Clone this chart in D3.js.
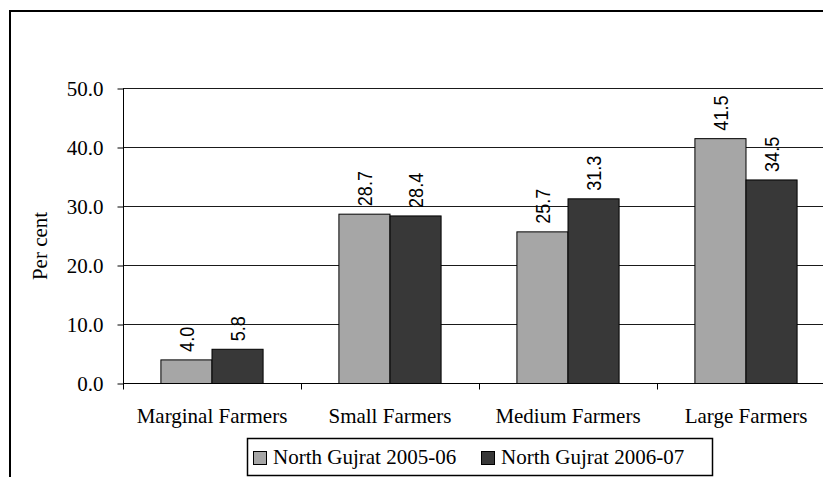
<!DOCTYPE html>
<html>
<head>
<meta charset="utf-8">
<script src="https://cdn.jsdelivr.net/npm/d3@7"></script>
<style>
  html, body { margin: 0; padding: 0; background: #fff; overflow: hidden; }
  svg { display: block; }
  text { font-family: "Liberation Serif", "Times New Roman", serif; fill: #000; }
</style>
</head>
<body>
<svg id="chart" width="823" height="477"></svg>
<script>
const categories = ["Marginal Farmers", "Small Farmers", "Medium Farmers", "Large Farmers"];
const seriesNames = ["North Gujrat 2005-06", "North Gujrat 2006-07"];
const values2005 = [4.0, 28.7, 25.7, 41.5];
const values2006 = [5.8, 28.4, 31.3, 34.5];
const yTicks = [0, 10, 20, 30, 40, 50];
const colors = ["#a6a6a6", "#383838"];

const seriesValues = [values2005, values2006];
const data = categories.map((c, i) => ({
  cat: c,
  vals: seriesNames.map((s, j) => ({ series: s, value: seriesValues[j][i], idx: j }))
}));

const svg = d3.select("#chart");

// outer frame (extends beyond the visible window on right/bottom)
svg.append("rect")
  .attr("x", 10).attr("y", 11)
  .attr("width", 900).attr("height", 600)
  .attr("fill", "none").attr("stroke", "#000").attr("stroke-width", 2);

const x0 = d3.scaleBand().domain(categories).range([123, 835]).padding(0);
const bw = x0.bandwidth();
const x1 = d3.scaleBand().domain(seriesNames).range([bw * 0.213, bw * 0.787]).padding(0);
const y = d3.scaleLinear().domain([0, 50]).range([383.5, 88.5]);

// gridlines
svg.append("g").selectAll("line")
  .data(yTicks.filter(t => t > 0))
  .join("line")
  .attr("x1", 123).attr("x2", 835)
  .attr("y1", d => y(d)).attr("y2", d => y(d))
  .attr("stroke", "#1a1a1a").attr("stroke-width", 1);

// bars
const groups = svg.append("g").selectAll("g")
  .data(data).join("g")
  .attr("transform", d => `translate(${x0(d.cat)},0)`);

groups.selectAll("rect")
  .data(d => d.vals).join("rect")
  .attr("x", d => x1(d.series))
  .attr("y", d => y(d.value))
  .attr("width", x1.bandwidth())
  .attr("height", d => y(0) - y(d.value))
  .attr("fill", d => colors[d.idx])
  .attr("stroke", "#000").attr("stroke-width", 1);

// value labels (rotated)
groups.selectAll("text.val")
  .data(d => d.vals).join("text")
  .attr("class", "val")
  .attr("transform", d => `translate(${x1(d.series) + x1.bandwidth() / 2},${y(d.value) - 8}) rotate(-90) scale(0.86,1)`)
  .attr("dy", "0.36em")
  .attr("text-anchor", "start")
  .style("font-family", "'Liberation Sans', Arial, sans-serif")
  .style("font-size", "21px")
  .text(d => d3.format(".1f")(d.value));

// y axis
const yAxis = svg.append("g")
  .attr("transform", "translate(123.5,0)")
  .call(d3.axisLeft(y).tickValues(yTicks).tickSize(6).tickPadding(14).tickFormat(d3.format(".1f")));
yAxis.select(".domain").attr("stroke", "#000").attr("d", `M0,${y(50)}V${y(0)}`);
yAxis.selectAll(".tick line").attr("stroke", "#000");
yAxis.selectAll("text").style("font-size", "21px").style("font-family", "'Liberation Serif', serif");

// x axis line
svg.append("line")
  .attr("x1", 123).attr("x2", 835)
  .attr("y1", y(0)).attr("y2", y(0))
  .attr("stroke", "#000").attr("stroke-width", 1);

// x ticks at band boundaries
const boundaries = categories.map(c => x0(c)).concat([x0(categories[categories.length - 1]) + bw]);
svg.append("g").selectAll("line")
  .data(boundaries).join("line")
  .attr("x1", d => Math.round(d) + 0.5).attr("x2", d => Math.round(d) + 0.5)
  .attr("y1", y(0)).attr("y2", y(0) + 6)
  .attr("stroke", "#000");

// category labels
svg.append("g").selectAll("text")
  .data(categories).join("text")
  .attr("x", d => x0(d) + bw / 2)
  .attr("y", 423)
  .attr("text-anchor", "middle")
  .style("font-size", "21px")
  .text(d => d);

// y axis title
svg.append("text")
  .attr("transform", "translate(47,246) rotate(-90)")
  .attr("text-anchor", "middle")
  .style("font-size", "21px")
  .text("Per cent");

// legend
const legend = svg.append("g");
legend.append("rect")
  .attr("x", 247.5).attr("y", 438.5).attr("width", 465).attr("height", 37)
  .attr("fill", "#fff").attr("stroke", "#000").attr("stroke-width", 1.5);
const legendX = [253, 481];
const items = legend.selectAll("g.item")
  .data(seriesNames).join("g")
  .attr("class", "item")
  .attr("transform", (d, i) => `translate(${legendX[i]},0)`);
items.append("rect")
  .attr("x", 0.5).attr("y", 451.5).attr("width", 13).attr("height", 13)
  .attr("fill", (d, i) => colors[i]).attr("stroke", "#000").attr("stroke-width", 1);
items.append("text")
  .attr("x", 20).attr("y", 464)
  .style("font-size", "21px")
  .text(d => d);
</script>
</body>
</html>
